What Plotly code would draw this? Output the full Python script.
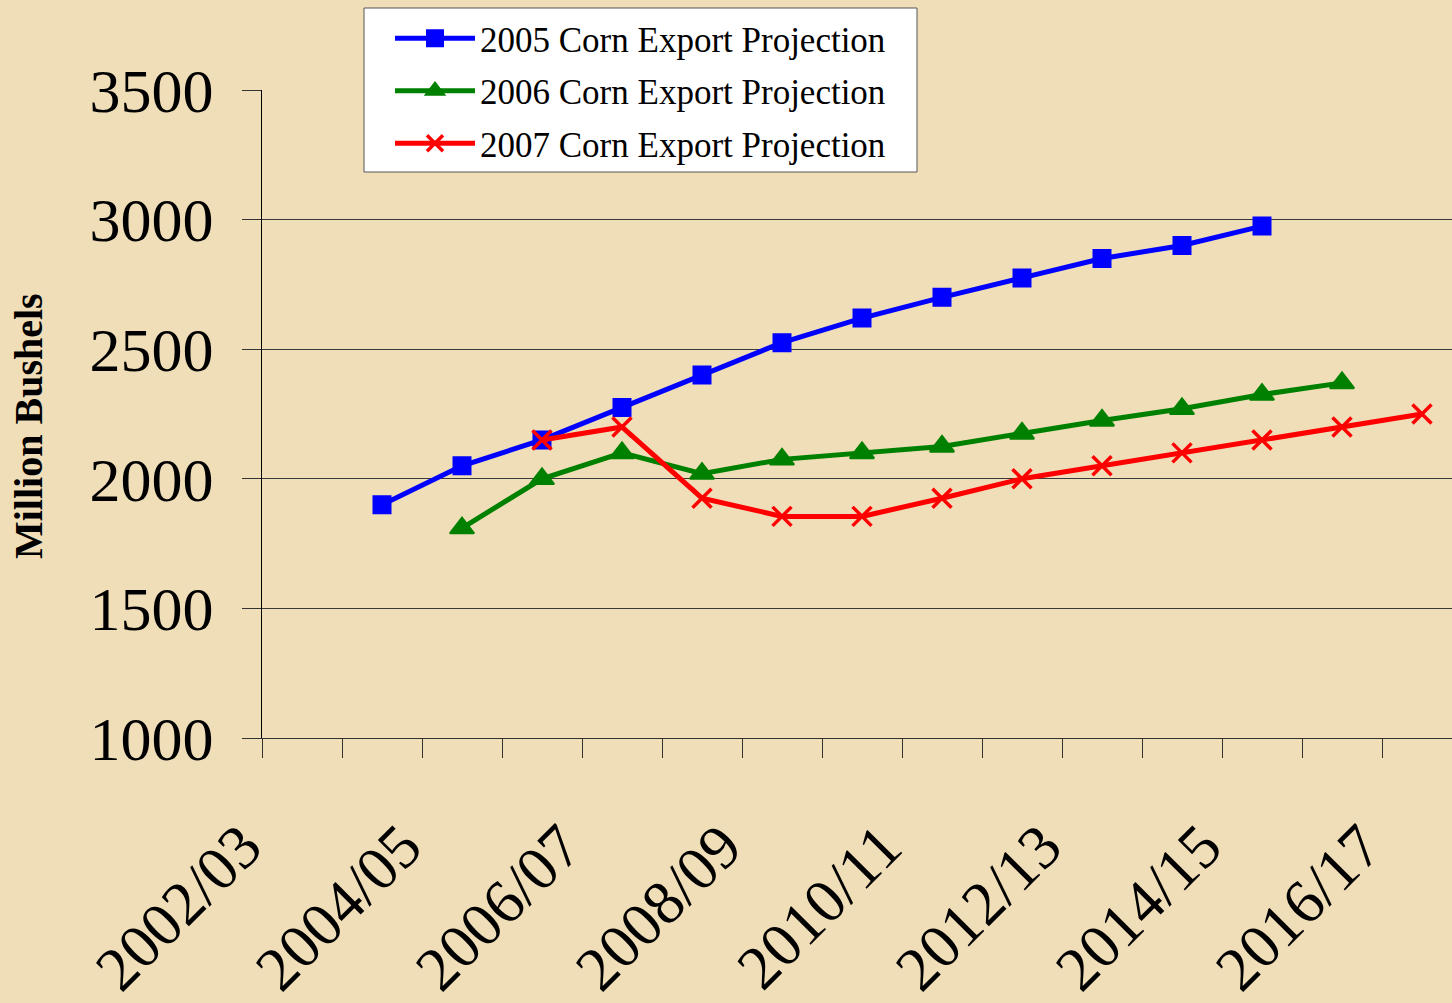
import plotly.graph_objects as go

categories = ["2002/03", "2003/04", "2004/05", "2005/06", "2006/07", "2007/08",
              "2008/09", "2009/10", "2010/11", "2011/12", "2012/13", "2013/14",
              "2014/15", "2015/16", "2016/17"]
proj_2005 = [None, 1900, 2050, 2150, 2275, 2400, 2525, 2620, 2700, 2775, 2850, 2900, 2975, None, None]
proj_2006 = [None, None, 1810, 2000, 2100, 2020, 2075, 2100, 2125, 2175, 2225, 2270, 2325, 2370, None]
proj_2007 = [None, None, None, 2150, 2200, 1925, 1855, 1855, 1925, 2000, 2050, 2100, 2150, 2200, 2250]
y_ticks = [1000, 1500, 2000, 2500, 3000, 3500]

FONT = "Liberation Serif, Times New Roman, serif"
BG = "#F0DEB9"
idx = list(range(len(categories)))

# plot area geometry (pixels)
L, R, T, B = 262, 1452, 90, 738
PW, PH = R - L, B - T


def px_x(p):
    return (p - L) / PW


def px_y(p):
    return 1 - (p - T) / PH


fig = go.Figure()
series = [
    ("2005 Corn Export Projection", proj_2005, "#0000FF", "square", 17, 2),
    ("2006 Corn Export Projection", proj_2006, "#008000", "triangle-up", 21, 2),
    ("2007 Corn Export Projection", proj_2007, "#FF0000", "x-thin", 19, 3.5),
]
for name, vals, color, sym, size, mlw in series:
    fig.add_trace(go.Scatter(
        x=idx, y=vals, name=name, mode="lines+markers",
        line=dict(color=color, width=5),
        marker=dict(symbol=sym, size=size, color=color,
                    line=dict(color=color, width=mlw)),
        legendgroup=name,
    ))

label_vals = [i - 0.5 for i in idx[::2]]
fig.update_layout(
    width=1452, height=1003,
    margin=dict(l=L, r=0, t=T, b=1003 - B, autoexpand=False),
    paper_bgcolor=BG, plot_bgcolor=BG,
    font=dict(family=FONT, color="black"),
    showlegend=True,
    legend=dict(
        x=px_x(390), y=px_y(9), xanchor="left", yanchor="top",
        bgcolor="rgba(0,0,0,0)", borderwidth=0,
        font=dict(family=FONT, size=35, color="black"),
        itemwidth=80, traceorder="grouped", tracegroupgap=4,
    ),
    xaxis=dict(
        range=[-0.5, 14.375], showgrid=False, zeroline=False, automargin=False,
        showline=True, linecolor="#333333", linewidth=1,
        tickmode="array", tickvals=label_vals, ticktext=categories[::2],
        ticks="", tickangle=-45, tickfont=dict(family=FONT, size=62),
        ticklabelstandoff=46, ticklabelshift=-19,
        minor=dict(tickmode="linear", tick0=-0.5, dtick=1, ticks="outside",
                   ticklen=19, tickcolor="#333333", tickwidth=1, showgrid=False),
    ),
    yaxis=dict(
        range=[1000, 3500], tickmode="array", tickvals=y_ticks, automargin=False,
        showgrid=True, gridcolor="#3a3a3a", gridwidth=1, zeroline=False,
        showline=True, linecolor="black", linewidth=1,
        ticks="outside", ticklen=19, tickcolor="#333333",
        tickfont=dict(family=FONT, size=62), ticklabelstandoff=16,
    ),
)
# legend frame
fig.add_shape(
    type="rect", xref="paper", yref="paper", layer="above",
    x0=px_x(364), x1=px_x(917), y0=px_y(172), y1=px_y(8),
    fillcolor="white", line=dict(color="#555555", width=1),
)
fig.add_annotation(
    text="<b>Million Bushels</b>", textangle=-90, showarrow=False,
    xref="paper", yref="paper", x=px_x(28), y=px_y(426),
    xanchor="center", yanchor="middle",
    font=dict(family=FONT, size=40, color="black"),
)
fig.write_html(
    "out.html",
    config={"displayModeBar": False},
    post_script="document.body.style.margin='0';"
                "document.body.style.overflow='hidden';"
                "document.body.style.background='" + BG + "';",
)
